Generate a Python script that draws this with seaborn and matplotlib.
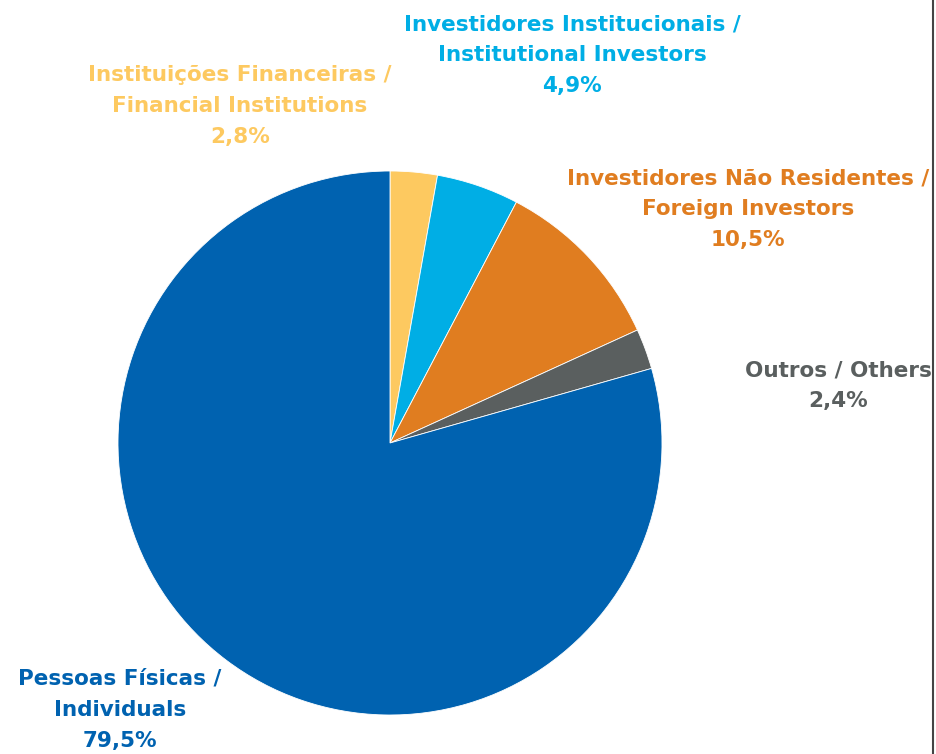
import matplotlib
matplotlib.use("Agg")
import matplotlib.pyplot as plt
import seaborn as sns
from matplotlib.lines import Line2D

# data, clockwise from 12 o'clock
labels = ["Instituições Financeiras /\nFinancial Institutions",
          "Investidores Institucionais /\nInstitutional Investors",
          "Investidores Não Residentes /\nForeign Investors",
          "Outros / Others",
          "Pessoas Físicas /\nIndividuals"]
values = [2.8, 4.9, 10.5, 2.4, 79.5]
pct_text = ["2,8%", "4,9%", "10,5%", "2,4%", "79,5%"]
colors = ["#FDC960", "#00AEE5", "#E07D20", "#5A5F5F", "#0062B0"]

# label centres in figure pixels (x, y of first line)
label_pos = [(240, 75), (572, 24), (748, 178), (838, 370), (120, 679)]

sns.set_theme(style="white")
plt.rcParams['font.family'] = ['DejaVu Sans']

W, H = 937, 754
fig = plt.figure(figsize=(W / 100, H / 100), dpi=100)
cx, cy, r = 390, 443, 272
ax = fig.add_axes([(cx - r) / W, (H - cy - r) / H, 2 * r / W, 2 * r / H])
ax.pie(values, colors=colors, startangle=90, counterclock=False, radius=1,
       wedgeprops=dict(linewidth=0.6, edgecolor="white"))
ax.set_xlim(-1, 1)
ax.set_ylim(-1, 1)
ax.set_aspect("equal")
ax.axis("off")

for lab, pct, col, (x, y) in zip(labels, pct_text, colors, label_pos):
    fig.text(x / W, 1 - (y - 10) / H, lab + "\n" + pct, color=col,
             ha="center", va="top", fontsize=15.5, fontweight="bold",
             linespacing=1.7)

# right border line
fig.add_artist(Line2D([933 / W, 933 / W], [0, 1], color="#444444", lw=1.5,
                      transform=fig.transFigure))

fig.savefig("out.png", dpi=100, facecolor="white")
